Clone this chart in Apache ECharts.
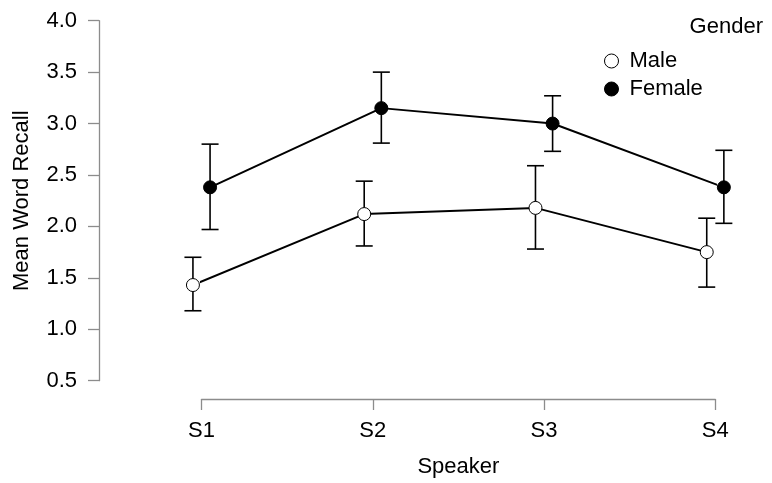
<!DOCTYPE html>
<html>
<head>
<meta charset="utf-8">
<script src="https://cdn.jsdelivr.net/npm/echarts@6/dist/echarts.min.js"></script>
<style>
  html, body { margin: 0; padding: 0; background: #fff; }
  #chart { width: 772px; height: 483px; }
</style>
</head>
<body>
<div id="chart"></div>
<script>
// speakers on the x axis
var speakers = ['S1', 'S2', 'S3', 'S4'];
var yTicks = [0.5, 1.0, 1.5, 2.0, 2.5, 3.0, 3.5, 4.0];

// mean word recall + error bar limits
var maleMean = [1.43, 2.12, 2.18, 1.75];
var maleLow = [1.18, 1.81, 1.78, 1.41];
var maleHigh = [1.70, 2.44, 2.59, 2.08];

var femaleMean = [2.38, 3.15, 3.00, 2.38];
var femaleLow = [1.97, 2.81, 2.73, 2.03];
var femaleHigh = [2.80, 3.50, 3.27, 2.74];

var FONT = '"Liberation Sans", Arial, sans-serif';
var dodge = 0.05; // small horizontal shift so the two groups don't overlap

function points(mean, shift) {
  return mean.map(function (v, i) { return [i + 1 + shift, v]; });
}
function bars(low, high, shift) {
  return low.map(function (v, i) { return [i + 1 + shift, v, high[i]]; });
}

function renderErrorBar(params, api) {
  var x = api.value(0);
  var lo = api.coord([x, api.value(1)]);
  var hi = api.coord([x, api.value(2)]);
  var half = 8.5;
  var style = { stroke: '#000', lineWidth: 1.6 };
  return {
    type: 'group',
    children: [
      { type: 'line', shape: { x1: lo[0], y1: lo[1], x2: hi[0], y2: hi[1] }, style: style },
      { type: 'line', shape: { x1: hi[0] - half, y1: hi[1], x2: hi[0] + half, y2: hi[1] }, style: style },
      { type: 'line', shape: { x1: lo[0] - half, y1: lo[1], x2: lo[0] + half, y2: lo[1] }, style: style }
    ]
  };
}

var chart = echarts.init(document.getElementById('chart'), null, { renderer: 'canvas' });

var option = {
  animation: false,
  backgroundColor: '#fff',
  textStyle: { fontFamily: FONT },
  title: {
    text: 'Gender',
    right: 4,
    top: 11,
    textStyle: { fontFamily: FONT, fontSize: 22, fontWeight: 'normal', color: '#000' }
  },
  legend: {
    orient: 'vertical',
    left: 599,
    top: 45,
    icon: 'circle',
    itemWidth: 14,
    itemHeight: 14,
    itemGap: 6,
    data: [
      { name: 'Male', itemStyle: { color: '#fff', borderColor: '#000', borderWidth: 1 } },
      { name: 'Female', itemStyle: { color: '#000', borderColor: '#000', borderWidth: 1 } }
    ],
    textStyle: { fontFamily: FONT, fontSize: 22, color: '#000', padding: [0, 0, 0, 6] }
  },
  grid: {
    left: 201.5,
    right: 56.7,
    top: 20.7,
    bottom: 102.3,
    containLabel: false
  },
  xAxis: {
    type: 'value',
    min: 1,
    max: 4,
    interval: 1,
    offset: 18.3,
    name: 'Speaker',
    nameLocation: 'middle',
    nameGap: 57,
    nameTextStyle: { fontFamily: FONT, fontSize: 22, color: '#000' },
    axisLine: { show: true, onZero: false, lineStyle: { color: '#8c8c8c', width: 1.3 } },
    axisTick: { show: true, length: 11, lineStyle: { color: '#8c8c8c', width: 1.3 } },
    axisLabel: {
      margin: 21,
      fontFamily: FONT,
      fontSize: 22,
      color: '#000',
      formatter: function (v) { return speakers[v - 1] || ''; }
    },
    splitLine: { show: false }
  },
  yAxis: {
    type: 'value',
    min: yTicks[0],
    max: yTicks[yTicks.length - 1],
    interval: 0.5,
    offset: 102.5,
    name: 'Mean Word Recall',
    nameLocation: 'middle',
    nameGap: 66,
    nameTextStyle: { fontFamily: FONT, fontSize: 22, color: '#000' },
    axisLine: { show: true, onZero: false, lineStyle: { color: '#8c8c8c', width: 1.3 } },
    axisTick: { show: true, length: 11, lineStyle: { color: '#8c8c8c', width: 1.3 } },
    axisLabel: {
      margin: 22,
      fontFamily: FONT,
      fontSize: 22,
      color: '#000',
      formatter: function (v) { return v.toFixed(1); }
    },
    splitLine: { show: false }
  },
  series: [
    {
      name: 'Male',
      type: 'line',
      data: points(maleMean, -dodge),
      clip: false,
      symbol: 'circle',
      symbolSize: 13,
      lineStyle: { color: '#000', width: 2 },
      itemStyle: { color: '#fff', borderColor: '#000', borderWidth: 1 },
      z: 3
    },
    {
      name: 'Female',
      type: 'line',
      data: points(femaleMean, dodge),
      clip: false,
      symbol: 'circle',
      symbolSize: 13,
      lineStyle: { color: '#000', width: 2 },
      itemStyle: { color: '#000', borderColor: '#000', borderWidth: 1 },
      z: 3
    },
    {
      name: 'Male error',
      type: 'custom',
      renderItem: renderErrorBar,
      data: bars(maleLow, maleHigh, -dodge),
      clip: false,
      z: 1,
      silent: true
    },
    {
      name: 'Female error',
      type: 'custom',
      renderItem: renderErrorBar,
      data: bars(femaleLow, femaleHigh, dodge),
      clip: false,
      z: 1,
      silent: true
    }
  ]
};

chart.setOption(option);
</script>
</body>
</html>
